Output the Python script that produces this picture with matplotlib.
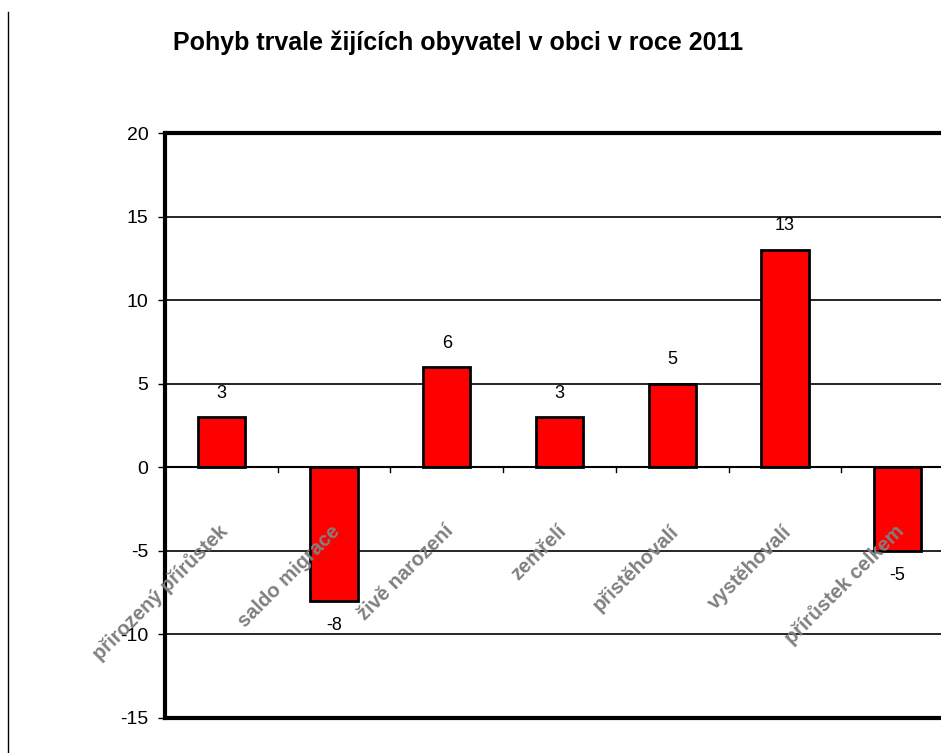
import matplotlib
matplotlib.use("Agg")
import matplotlib.pyplot as plt
from matplotlib import font_manager
from matplotlib.lines import Line2D

categories = ["přirozený přírůstek", "saldo migrace", "živě narození", "zemřelí",
              "přistěhovalí", "vystěhovalí", "přírůstek celkem"]
values = [3, -8, 6, 3, 5, 13, -5]
yticks = [-15, -10, -5, 0, 5, 10, 15, 20]
title = "Pohyb trvale žijících obyvatel v obci v roce 2011"

names = {f.name for f in font_manager.fontManager.ttflist}
base = "Liberation Sans" if "Liberation Sans" in names else "DejaVu Sans"
plt.rcParams["font.family"] = [base, "DejaVu Sans"]

W, H = 941, 753
fig = plt.figure(figsize=(W / 100, H / 100), dpi=100)
left, right, top, bottom = 165, 954, 133, 718
ax = fig.add_axes([left / W, 1 - bottom / H, (right - left) / W, (bottom - top) / H])

x = list(range(len(categories)))
ax.bar(x, values, width=0.42, color="#ff0000", edgecolor="black", linewidth=2, zorder=3)
ax.set_xlim(-0.5, len(categories) - 0.5)
ax.set_ylim(-15, 20)
ax.set_yticks(yticks)
ax.set_yticklabels([str(v) for v in yticks], fontsize=14)
for y in yticks:
    ax.axhline(y, color="black", linewidth=1.2, zorder=1)
ax.axhline(0, color="black", linewidth=1.5, zorder=4)

ax.set_xticks([])
for i in range(len(categories) + 1):
    ax.plot([i - 0.5, i - 0.5], [0, -0.3], color="black", linewidth=1, zorder=4)
ax.tick_params(axis="y", length=5, width=1, pad=7)

for s in ["top", "bottom", "left"]:
    ax.spines[s].set_linewidth(3)
ax.spines["right"].set_visible(False)

for i, v in enumerate(values):
    off = 24 if v >= 0 else -25
    ax.annotate(str(v), (i, v), xytext=(0, off), textcoords="offset pixels",
                ha="center", va="center", fontsize=13, color="black", zorder=5)

for i, c in enumerate(categories):
    ax.text(i + 0.03, -3.65, c, rotation=45, rotation_mode="anchor", ha="right", va="center",
            fontsize=14.5, fontweight="bold", color="#808080", zorder=6)

fig.text(458 / W, 1 - 43 / H, title, ha="center", va="center", fontsize=18,
         fontweight="bold")

fig.add_artist(Line2D([8 / W, 8 / W], [0, 1 - 12 / H], color="black", linewidth=1,
                      transform=fig.transFigure))

fig.savefig("out.png", dpi=100)
